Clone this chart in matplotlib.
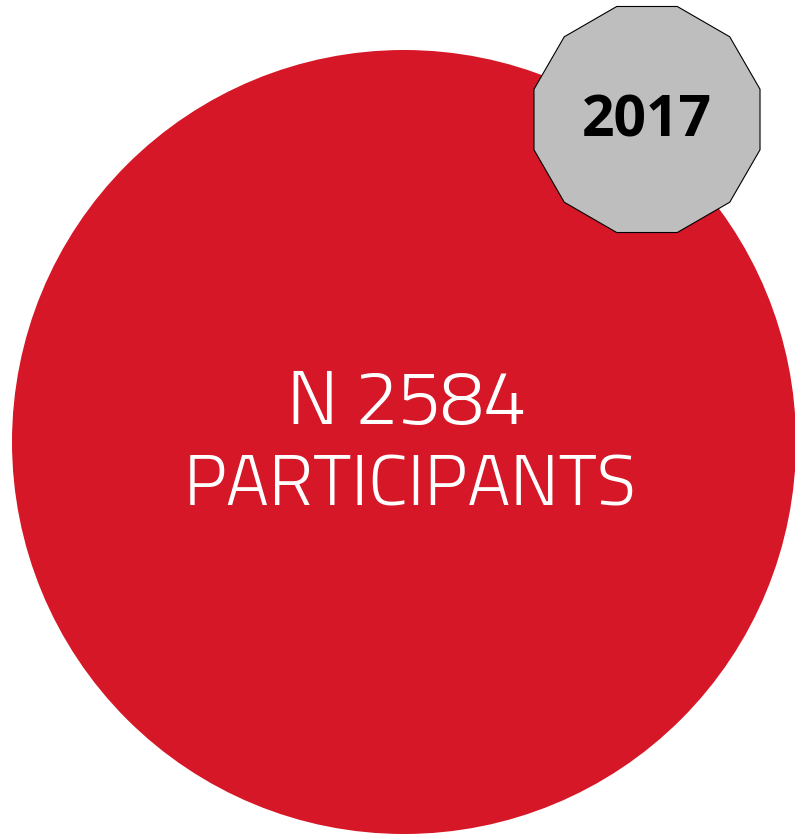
import matplotlib.pyplot as plt
from matplotlib.patches import Circle, RegularPolygon
import numpy as np

# --- data ---
n_participants = 2584
label = "PARTICIPANTS"
year = "2017"

W, H = 795, 837
fig = plt.figure(figsize=(W / 100, H / 100), dpi=100)
ax = fig.add_axes([0, 0, 1, 1])
ax.set_xlim(0, W)
ax.set_ylim(H, 0)
ax.set_aspect("equal")
ax.axis("off")

# big red disc
ax.add_patch(Circle((404, 443), 392, facecolor="#d51727", edgecolor="none"))

# grey 12-sided badge (flat top/bottom)
ax.add_patch(RegularPolygon((647, 120.5), numVertices=12, radius=117,
                            orientation=np.deg2rad(15),
                            facecolor="#bebebe", edgecolor="black", linewidth=0.8))

main_font = ["Titillium Web", "Barlow Semi Condensed", "DejaVu Sans"]
ax.text(407, 405, f"N {n_participants}", ha="center", va="center",
        fontsize=55, fontweight=300, color="white", family=main_font)
ax.text(410, 488, label, ha="center", va="center",
        fontsize=52, fontweight=300, color="white", family=main_font)

ax.text(647, 121, year, ha="center", va="center", fontsize=41,
        fontweight="bold", color="black", family=["Open Sans", "DejaVu Sans"])

fig.savefig("out.png", dpi=100)
